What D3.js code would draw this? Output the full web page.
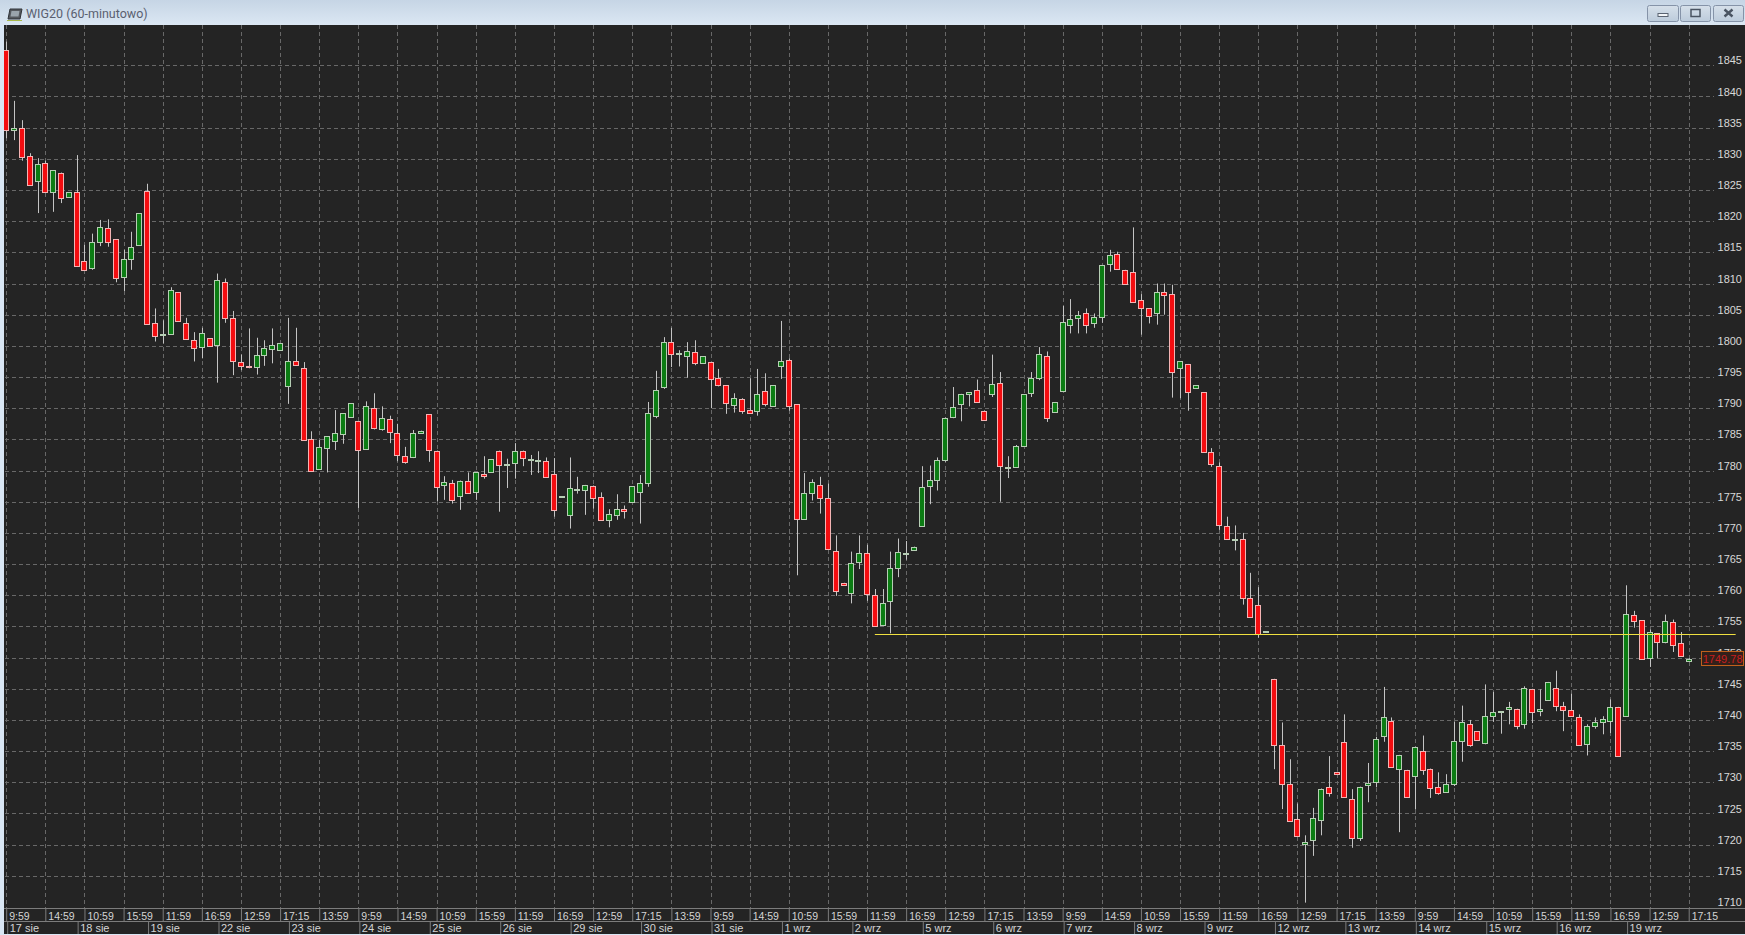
<!DOCTYPE html>
<html>
<head>
<meta charset="utf-8">
<title>WIG20 (60-minutowo)</title>
<script src="https://cdn.jsdelivr.net/npm/d3@7"></script>
<style>
  html, body { margin: 0; padding: 0; background: #d9e6f4; overflow: hidden; }
  svg { display: block; }
  text { font-family: "Liberation Sans", Arial, sans-serif; }
</style>
</head>
<body>
<div id="chart"></div>
<script>
// one row per session, 9 bars a session
const opens = [
  1847.4,1834.7,1835.0,1830.4,1826.3,1829.3,1824.7,1827.8,1823.8,
  1824.6,1813.6,1812.5,1816.6,1818.9,1817.1,1811.1,1813.9,1816.1,
  1824.9,1803.7,1801.9,1801.9,1808.6,1803.6,1801.0,1799.9,1801.2,
  1800.0,1810.2,1804.5,1797.4,1796.7,1796.7,1798.4,1799.6,1799.3,
  1793.6,1797.5,1796.5,1785.1,1780.3,1783.6,1784.8,1785.9,1788.6,
  1787.9,1783.5,1790.1,1786.7,1788.2,1786.0,1782.4,1782.2,1786.0,
  1789.0,1783.2,1777.6,1778.0,1776.0,1778.4,1776.5,1779.4,1779.7,
  1783.2,1781.1,1781.1,1783.2,1781.9,1781.7,1781.6,1779.4,1776.0,
  1772.8,1777.1,1776.9,1777.6,1775.7,1772.1,1772.8,1773.8,1775.0,
  1776.5,1778.1,1788.9,1793.5,1800.7,1798.8,1798.3,1799.0,1797.1,
  1797.4,1794.8,1793.7,1790.4,1791.5,1789.7,1789.5,1792.7,1790.4,
  1796.7,1797.7,1790.6,1772.2,1776.4,1777.7,1775.6,1767.1,1762.0,
  1760.4,1765.3,1766.7,1760.1,1755.3,1759.1,1764.4,1766.7,1767.3,
  1771.0,1777.5,1778.5,1781.7,1788.6,1790.7,1792.3,1793.0,1789.6,
  1792.3,1794.1,1780.5,1780.6,1783.9,1792.5,1794.8,1798.4,1789.4,
  1792.8,1803.4,1804.4,1805.3,1803.6,1804.6,1813.1,1814.7,1812.2,
  1811.8,1807.3,1806.0,1805.2,1808.6,1808.3,1796.3,1797.1,1793.2,
  1792.6,1783.0,1780.8,1771.1,1769.1,1769.0,1759.5,1758.5,1754.2,
  1746.6,1736.0,1729.8,1724.1,1720.1,1720.6,1724.0,1729.3,1731.7,
  1736.5,1727.4,1721.1,1729.5,1730.1,1737.5,1739.9,1732.2,1732.0,
  1731.0,1735.0,1732.2,1729.3,1728.5,1729.8,1736.7,1739.3,1738.2,
  1736.3,1740.5,1741.2,1741.6,1741.8,1739.3,1745.0,1741.5,1743.2,
  1745.2,1742.3,1741.6,1740.4,1736.2,1739.0,1739.7,1739.9,1742.1,
  1740.7,1756.8,1756.0,1749.9,1753.9,1752.6,1755.7,1752.3,1749.5
];
const highs = [
  1848.8,1839.3,1836.2,1830.9,1830.1,1829.7,1828.2,1827.8,1824.6,
  1830.6,1816.2,1818.0,1820.2,1820.3,1817.1,1815.4,1818.3,1821.3,
  1826.0,1806.0,1804.1,1809.4,1808.6,1804.5,1802.2,1802.9,1801.2,
  1811.6,1810.8,1805.6,1798.6,1802.8,1801.3,1800.9,1802.8,1800.4,
  1804.5,1802.9,1797.4,1786.3,1784.9,1785.5,1789.7,1789.2,1790.8,
  1787.9,1791.1,1792.4,1790.3,1788.8,1787.5,1783.8,1786.5,1786.4,
  1789.0,1783.2,1779.1,1778.5,1778.4,1779.7,1779.7,1782.3,1781.8,
  1783.2,1781.9,1784.4,1783.2,1782.5,1783.1,1782.1,1782.0,1776.0,
  1782.1,1779.0,1777.7,1777.6,1776.5,1773.8,1776.2,1774.4,1777.5,
  1779.3,1791.0,1796.0,1801.4,1802.9,1799.3,1800.6,1800.9,1798.3,
  1797.4,1796.3,1793.7,1792.4,1791.6,1794.8,1796.3,1795.6,1793.7,
  1804.0,1798.0,1790.6,1779.6,1778.6,1779.0,1777.9,1769.6,1762.0,
  1767.0,1769.6,1768.1,1761.0,1761.0,1767.0,1769.1,1768.7,1767.8,
  1780.7,1780.8,1782.1,1788.5,1793.4,1792.3,1792.6,1794.6,1789.6,
  1798.6,1795.8,1782.3,1784.1,1792.2,1795.8,1799.8,1799.1,1791.0,
  1806.4,1807.5,1805.6,1806.0,1805.2,1812.9,1815.4,1815.1,1812.2,
  1819.0,1808.3,1806.0,1810.0,1810.0,1809.8,1797.5,1797.1,1793.7,
  1792.6,1783.6,1781.3,1772.6,1771.2,1770.0,1763.6,1761.3,1754.2,
  1746.6,1739.6,1733.7,1726.6,1721.5,1725.9,1729.0,1734.2,1731.7,
  1740.9,1728.9,1729.3,1733.1,1737.3,1745.3,1740.4,1734.4,1732.0,
  1735.7,1737.5,1732.2,1731.6,1731.3,1739.7,1742.3,1740.0,1738.2,
  1745.7,1744.5,1741.4,1742.9,1741.8,1745.4,1745.0,1744.9,1746.1,
  1747.9,1742.9,1744.2,1740.9,1739.3,1740.4,1740.6,1743.3,1742.1,
  1761.6,1757.5,1756.0,1754.5,1753.9,1756.9,1756.1,1754.1,1749.9
];
const lows = [
  1833.3,1833.0,1829.7,1825.7,1821.3,1824.7,1821.5,1822.9,1823.8,
  1812.7,1812.1,1812.2,1816.0,1815.9,1810.2,1808.8,1812.2,1816.1,
  1803.6,1800.7,1800.4,1801.9,1803.9,1801.0,1797.5,1798.0,1799.9,
  1794.1,1803.7,1795.3,1796.1,1796.4,1795.4,1796.8,1797.2,1799.3,
  1790.7,1796.8,1785.0,1780.0,1780.1,1779.7,1783.3,1784.3,1788.6,
  1774.0,1783.5,1786.6,1786.4,1784.4,1781.5,1781.1,1782.0,1786.0,
  1781.4,1775.1,1775.3,1774.7,1773.7,1776.4,1775.3,1778.7,1779.7,
  1773.4,1777.2,1778.7,1780.7,1779.3,1779.6,1779.0,1772.6,1776.0,
  1770.7,1776.3,1772.9,1773.9,1772.0,1770.9,1772.1,1772.3,1775.0,
  1771.5,1777.4,1788.4,1793.1,1796.6,1796.7,1794.9,1796.9,1797.1,
  1790.0,1793.5,1789.1,1789.3,1789.1,1789.2,1788.8,1790.3,1790.4,
  1794.7,1789.6,1763.2,1772.1,1775.2,1773.1,1767.5,1759.9,1761.7,
  1758.7,1764.2,1759.1,1755.1,1755.3,1753.9,1762.9,1765.7,1767.3,
  1771.0,1774.6,1776.8,1781.4,1788.4,1787.9,1790.3,1791.0,1788.1,
  1791.8,1775.0,1778.8,1780.6,1783.9,1791.8,1794.5,1787.8,1789.4,
  1792.8,1802.0,1802.0,1802.0,1802.9,1803.7,1811.9,1812.3,1810.0,
  1807.0,1801.8,1803.6,1803.4,1805.0,1791.7,1791.6,1789.6,1793.2,
  1783.0,1780.6,1770.5,1769.0,1767.2,1758.5,1756.4,1753.2,1754.2,
  1732.1,1725.7,1723.9,1721.3,1710.7,1718.2,1721.5,1727.7,1731.4,
  1727.6,1719.5,1720.6,1726.8,1729.2,1736.5,1732.5,1722.0,1727.7,
  1725.7,1731.2,1727.5,1728.0,1728.5,1729.4,1733.3,1735.7,1736.7,
  1736.1,1739.7,1737.8,1739.3,1738.5,1738.6,1739.5,1740.6,1743.2,
  1741.4,1738.2,1740.6,1735.9,1734.3,1738.6,1737.7,1737.9,1734.3,
  1740.7,1754.8,1749.7,1748.5,1749.9,1752.3,1750.9,1750.1,1749.5
];
const closes = [
  1834.5,1835.0,1830.4,1825.7,1829.1,1824.7,1828.2,1823.8,1824.6,
  1812.7,1812.1,1816.6,1819.0,1816.7,1810.9,1814.0,1815.8,1821.3,
  1803.6,1801.6,1801.9,1808.9,1803.9,1801.0,1799.7,1802.1,1799.9,
  1810.5,1804.5,1797.6,1796.8,1796.6,1798.6,1799.6,1800.2,1800.4,
  1797.6,1796.8,1785.0,1780.0,1783.8,1785.5,1786.1,1789.2,1790.8,
  1783.2,1790.4,1786.9,1788.4,1786.1,1782.4,1781.4,1786.1,1786.4,
  1783.3,1777.5,1778.1,1775.3,1778.4,1776.4,1779.7,1779.1,1781.8,
  1781.0,1781.1,1783.1,1782.1,1781.9,1781.7,1779.0,1773.6,1776.0,
  1777.2,1777.1,1777.7,1775.7,1772.0,1773.0,1773.8,1773.5,1777.5,
  1778.0,1789.3,1793.0,1800.7,1798.8,1798.8,1799.1,1797.2,1798.3,
  1794.7,1793.6,1790.8,1791.6,1789.5,1789.2,1792.3,1790.6,1793.7,
  1797.5,1790.3,1772.1,1776.4,1778.2,1775.6,1767.5,1760.7,1761.7,
  1765.2,1766.7,1760.1,1755.1,1758.8,1764.4,1767.0,1766.7,1767.8,
  1777.3,1778.5,1781.7,1788.5,1790.2,1792.3,1792.6,1791.0,1788.1,
  1793.9,1780.8,1780.5,1784.0,1792.2,1794.9,1798.7,1788.5,1791.0,
  1803.8,1804.3,1804.9,1803.3,1804.6,1812.9,1814.5,1812.3,1810.0,
  1807.0,1806.0,1804.7,1808.6,1808.1,1795.8,1797.5,1792.6,1793.7,
  1783.0,1781.0,1771.3,1769.0,1769.1,1759.6,1756.4,1753.8,1754.2,
  1736.0,1729.8,1723.9,1721.3,1720.4,1724.2,1729.0,1728.3,1731.4,
  1727.6,1721.1,1729.3,1729.9,1737.0,1740.5,1732.5,1734.4,1727.7,
  1735.7,1731.9,1729.2,1728.3,1729.8,1736.7,1739.7,1735.9,1736.7,
  1740.7,1741.2,1741.4,1742.0,1739.0,1745.1,1741.3,1741.8,1746.1,
  1742.3,1741.6,1740.6,1735.9,1739.1,1739.7,1740.2,1742.1,1734.3,
  1757.0,1755.9,1749.7,1754.1,1752.5,1755.9,1752.0,1750.2,1749.78
];
const sessionTimes = ["9:59","10:59","11:59","12:59","13:59","14:59","15:59","16:59","17:15"];
const dayLabels = ["17 sie","18 sie","19 sie","22 sie","23 sie","24 sie","25 sie","26 sie","29 sie","30 sie","31 sie",
  "1 wrz","2 wrz","5 wrz","6 wrz","7 wrz","8 wrz","9 wrz","12 wrz","13 wrz","14 wrz","15 wrz","16 wrz","19 wrz"];
const priceTicks = [1710,1715,1720,1725,1730,1735,1740,1745,1750,1755,1760,1765,1770,1775,1780,1785,1790,
  1795,1800,1805,1810,1815,1820,1825,1830,1835,1840,1845];
const supportLevel = 1753.8;
const supportFrom = 111;
const supportTo = 221;
const lastPrice = "1749.78";

const width = 1745;
const height = 935;
const titleH = 25;
const plotLeft = 4;
const axisTop = 908;
const axisMid = 921;
const axisBottom = 934;

const bars = opens.map((o, i) => ({ i, o, h: highs[i], l: lows[i], c: closes[i] }));

const svg = d3.select("#chart")
  .append("svg")
  .attr("width", width)
  .attr("height", height);

const defs = svg.append("defs");

const titleGrad = defs.append("linearGradient").attr("id", "titleGrad").attr("x1", 0).attr("x2", 0).attr("y1", 0).attr("y2", 1);
titleGrad.append("stop").attr("offset", 0).attr("stop-color", "#c6d5e5");
titleGrad.append("stop").attr("offset", 1).attr("stop-color", "#dbe7f3");

const btnGrad = defs.append("linearGradient").attr("id", "btnGrad").attr("x1", 0).attr("x2", 0).attr("y1", 0).attr("y2", 1);
btnGrad.append("stop").attr("offset", 0).attr("stop-color", "#d6e0ea");
btnGrad.append("stop").attr("offset", 1).attr("stop-color", "#bccbdb");

defs.append("clipPath").attr("id", "plotClip")
  .append("rect").attr("x", plotLeft).attr("y", titleH).attr("width", width - plotLeft).attr("height", axisTop - titleH);

// window frame
svg.append("rect").attr("width", width).attr("height", height).attr("fill", "#d9e6f4");
svg.append("rect").attr("width", width).attr("height", titleH).attr("fill", "url(#titleGrad)");
svg.append("rect").attr("x", plotLeft).attr("y", titleH).attr("width", width - plotLeft).attr("height", axisBottom - titleH).attr("fill", "#242424");

const icon = svg.append("g").attr("transform", "translate(7,8)");
icon.append("path").attr("d", "M3 1H15L13 11H1Z").attr("fill", "#55595e").attr("stroke", "#30343a");
icon.append("path").attr("d", "M4.5 3H12.5L11.5 8.5H3.5Z").attr("fill", "#9aa4ac");
icon.append("line").attr("x1", 0).attr("x2", 15).attr("y1", 12.5).attr("y2", 12.5).attr("stroke", "#a8b84a");

svg.append("text")
  .attr("x", 26)
  .attr("y", 18)
  .attr("fill", "#5a6070")
  .style("font-family", "Roboto")
  .style("font-size", "12.5px")
  .text("WIG20 (60-minutowo)");

const buttons = [
  { x: 1647.5, w: 31, glyph: "min" },
  { x: 1680.5, w: 30, glyph: "max" },
  { x: 1713.5, w: 30, glyph: "close" }
];
buttons.forEach(b => {
  svg.append("rect").attr("x", b.x).attr("y", 5.5).attr("width", b.w).attr("height", 16).attr("rx", 2)
    .attr("fill", "url(#btnGrad)").attr("stroke", "#8593a8");
  const cx = b.x + b.w / 2;
  if (b.glyph === "min") {
    svg.append("rect").attr("x", cx - 5).attr("y", 13.5).attr("width", 10).attr("height", 3).attr("fill", "#f2f5f8").attr("stroke", "#5a6472");
  } else if (b.glyph === "max") {
    svg.append("rect").attr("x", cx - 4.5).attr("y", 9.5).attr("width", 9).attr("height", 7).attr("fill", "none").attr("stroke", "#4a5462").attr("stroke-width", 1.5);
  } else {
    svg.append("path").attr("d", `M${cx - 4} 9.5L${cx + 4} 16.5M${cx + 4} 9.5L${cx - 4} 16.5`).attr("stroke", "#4a5462").attr("stroke-width", 2.4);
  }
});

const x = d3.scaleLinear()
  .domain([0, opens.length - 1])
  .range([6.2, 1688.7]);

const y = d3.scaleLinear()
  .domain([1710, 1845])
  .range([907, 65.3]);

const px = v => Math.round(v) + 0.5;

const timeTicks = d3.range(0, opens.length, 5);
const dayTicks = dayLabels.map((d, i) => i * sessionTimes.length);

// grid
const grid = svg.append("g").attr("stroke", "#686868").attr("stroke-dasharray", "4,3");
grid.selectAll("line.h")
  .data(priceTicks.slice(1))
  .enter()
  .append("line")
  .attr("class", "h")
  .attr("x1", 5)
  .attr("x2", 1714)
  .attr("y1", d => px(y(d)))
  .attr("y2", d => px(y(d)));
grid.selectAll("line.v")
  .data(timeTicks)
  .enter()
  .append("line")
  .attr("class", "v")
  .attr("x1", d => px(x(d)))
  .attr("x2", d => px(x(d)))
  .attr("y1", titleH)
  .attr("y2", axisTop);

// price axis
const priceAxis = svg.append("g")
  .attr("transform", "translate(1742,0)")
  .call(d3.axisLeft(y).tickValues(priceTicks).tickSize(0).tickFormat(d3.format("d")));
priceAxis.select(".domain").remove();
priceAxis.selectAll("text")
  .attr("x", 0)
  .attr("y", -5)
  .attr("fill", "#d8d8d8")
  .style("font-family", "'Liberation Sans'")
  .style("font-size", "11px");

// candles
const candles = svg.append("g").attr("clip-path", "url(#plotClip)");
const candle = candles.selectAll("g")
  .data(bars)
  .enter()
  .append("g")
  .attr("transform", d => `translate(${px(x(d.i))},0)`);

candle.append("line")
  .attr("y1", d => y(d.h))
  .attr("y2", d => y(d.l))
  .attr("stroke", "#c4c4c4");

candle.append("rect")
  .attr("x", -3)
  .attr("width", 5)
  .attr("y", d => Math.round(y(Math.max(d.o, d.c))) + 0.5)
  .attr("height", d => Math.max(1, Math.round(Math.abs(y(d.o) - y(d.c)))))
  .attr("fill", d => d.c >= d.o ? "#0b7c13" : "#f30d10")
  .attr("stroke", d => d.c >= d.o ? "#b6ceb4" : "#f4b4b4");

// support line
svg.append("line")
  .attr("x1", x(supportFrom))
  .attr("x2", x(supportTo))
  .attr("y1", px(y(supportLevel)))
  .attr("y2", px(y(supportLevel)))
  .attr("stroke", "#f0e040");

// last price box
const lastY = y(closes[closes.length - 1]);
svg.append("rect")
  .attr("x", 1701.5)
  .attr("y", Math.round(lastY) - 7.5)
  .attr("width", 42)
  .attr("height", 14)
  .attr("fill", "#33201a")
  .attr("stroke", "#c0601c");
svg.append("text")
  .attr("x", 1742.5)
  .attr("y", Math.round(lastY) + 4)
  .attr("text-anchor", "end")
  .attr("fill", "#c81e1e")
  .style("font-size", "11px")
  .text(lastPrice);

// time axis rows
svg.append("rect").attr("x", plotLeft).attr("y", axisTop).attr("width", width - plotLeft).attr("height", axisBottom - axisTop).attr("fill", "#242424");

const timeAxis = svg.append("g")
  .attr("transform", `translate(0,${axisTop})`)
  .call(d3.axisBottom(x).tickValues(timeTicks).tickSize(axisMid - axisTop).tickFormat(d => sessionTimes[d % sessionTimes.length]));
const dayAxis = svg.append("g")
  .attr("transform", `translate(0,${axisMid})`)
  .call(d3.axisBottom(x).tickValues(dayTicks).tickSize(axisBottom - axisMid).tickFormat(d => dayLabels[d / sessionTimes.length]));

[timeAxis, dayAxis].forEach((a, n) => {
  a.select(".domain").remove();
  a.selectAll("line").attr("stroke", "#7c7c7c").attr("x1", n ? 1 : 0).attr("x2", n ? 1 : 0);
  a.selectAll("text")
    .attr("x", n ? 3 : 2.5)
    .attr("y", n ? 11 : 11.5)
    .attr("dy", 0)
    .attr("text-anchor", "start")
    .attr("fill", "#d4d4d4")
    .style("font-family", "'Liberation Sans'")
    .style("font-size", n ? "11px" : "10.5px");
});

svg.selectAll("line.rule")
  .data([axisTop, axisMid])
  .enter()
  .append("line")
  .attr("class", "rule")
  .attr("x1", plotLeft)
  .attr("x2", width)
  .attr("y1", d => d + 0.5)
  .attr("y2", d => d + 0.5)
  .attr("stroke", "#7c7c7c");
</script>
</body>
</html>
